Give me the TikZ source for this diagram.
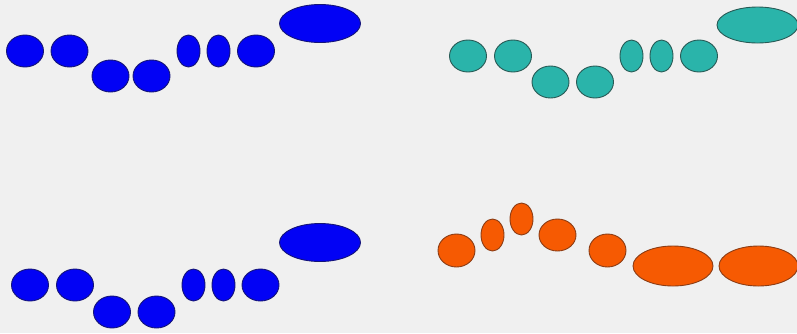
\documentclass[tikz,border=0pt]{standalone}
\usetikzlibrary{shapes.geometric}
\definecolor{bg}{RGB}{240,240,240}
\definecolor{bluefill}{RGB}{2,2,245}
\definecolor{blueline}{RGB}{20,20,120}
\definecolor{tealfill}{RGB}{42,180,170}
\definecolor{tealline}{RGB}{40,90,85}
\definecolor{orgfill}{RGB}{246,90,2}
\definecolor{orgline}{RGB}{140,60,20}
\tikzset{
  blob/.style={ellipse, inner sep=0pt, line width=0.9pt},
  bl/.style={blob, fill=bluefill, draw=blueline},
  te/.style={blob, fill=tealfill, draw=tealline},
  og/.style={blob, fill=orgfill, draw=orgline},
  rnd/.style={minimum width=37pt, minimum height=32pt},
  tall/.style={minimum width=23pt, minimum height=32pt},
  wide/.style={minimum width=81pt, minimum height=38pt}
}
\begin{document}
\begin{tikzpicture}[x=1pt,y=-1pt]
\useasboundingbox (0,0) rectangle (797,333);
\fill[bg] (0,0) rectangle (797,333);
\clip (0,0) rectangle (797,333);
% top left blue
\node[bl,rnd] (a1) at (25,51) {};
\node[bl,rnd] (a2) at (69.5,51) {};
\node[bl,rnd] (a3) at (110.5,76) {};
\node[bl,rnd] (a4) at (151.5,76) {};
\node[bl,tall] (a5) at (188.5,51) {};
\node[bl,tall] (a6) at (218.5,51) {};
\node[bl,rnd] (a7) at (256,51) {};
\node[bl,wide] (a8) at (320,23.5) {};
% top right teal
\node[te,rnd] (b1) at (468,56) {};
\node[te,rnd] (b2) at (513,56) {};
\node[te,rnd] (b3) at (550.5,82) {};
\node[te,rnd] (b4) at (595,82) {};
\node[te,tall] (b5) at (631.5,56) {};
\node[te,tall] (b6) at (661.5,56) {};
\node[te,rnd] (b7) at (699,56) {};
\node[te,minimum width=81pt,minimum height=36pt] (b8) at (757.5,25) {};
% bottom left blue
\node[bl,rnd] (c1) at (30,285) {};
\node[bl,rnd] (c2) at (75,285) {};
\node[bl,rnd] (c3) at (112,312) {};
\node[bl,rnd] (c4) at (156.5,312) {};
\node[bl,tall] (c5) at (193.5,285) {};
\node[bl,tall] (c6) at (223.5,285) {};
\node[bl,rnd] (c7) at (260.5,285) {};
\node[bl,wide] (c8) at (320,242.5) {};
% bottom right orange
\node[og,minimum width=37pt,minimum height=33pt] (d1) at (456.5,250.5) {};
\node[og,tall] (d2) at (492.5,235) {};
\node[og,tall] (d3) at (521.5,219) {};
\node[og,rnd] (d4) at (557.5,235) {};
\node[og,minimum width=37pt,minimum height=33pt] (d5) at (607.5,250.5) {};
\node[og,minimum width=80pt,minimum height=40pt] (d6) at (673,266) {};
\node[og,minimum width=79pt,minimum height=40pt] (d7) at (758.5,266) {};
\end{tikzpicture}
\end{document}
